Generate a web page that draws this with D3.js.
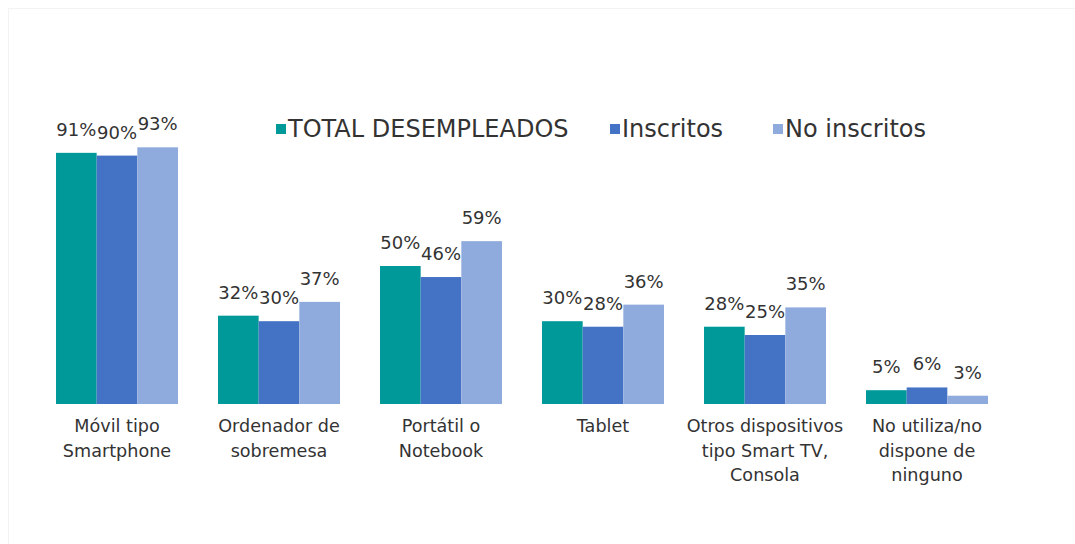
<!DOCTYPE html>
<html>
<head>
<meta charset="utf-8">
<script src="https://cdn.jsdelivr.net/npm/d3@7"></script>
<style>
  html, body { margin: 0; padding: 0; background: #fff; }
  svg { display: block; font-family: "DejaVu Sans", sans-serif; }
</style>
</head>
<body>
<div id="chart"></div>
<script>
// categorías (líneas del eje x)
const categories = [
  ["Móvil tipo", "Smartphone"],
  ["Ordenador de", "sobremesa"],
  ["Portátil o", "Notebook"],
  ["Tablet"],
  ["Otros dispositivos", "tipo Smart TV,", "Consola"],
  ["No utiliza/no", "dispone de", "ninguno"]
];
const seriesNames = ["TOTAL DESEMPLEADOS", "Inscritos", "No inscritos"];
const totalDesempleados = [0.91, 0.32, 0.50, 0.30, 0.28, 0.05];
const inscritos = [0.90, 0.30, 0.46, 0.28, 0.25, 0.06];
const noInscritos = [0.93, 0.37, 0.59, 0.36, 0.35, 0.03];
const colors = ["#009999", "#4472C4", "#8FAADC"];

const width = 1075, height = 544;
const series = [totalDesempleados, inscritos, noInscritos];

const svg = d3.select("#chart").append("svg")
  .attr("width", width)
  .attr("height", height);

// marco muy tenue
svg.append("path")
  .attr("d", "M8.5," + height + " V8.5 H" + width)
  .attr("fill", "none")
  .attr("stroke", "#f3f3f3");

const x0 = d3.scaleBand()
  .domain(d3.range(categories.length))
  .range([36, 1008])
  .paddingInner(0.247)
  .paddingOuter(0.1235);

const x1 = d3.scaleBand()
  .domain(d3.range(series.length))
  .range([0, x0.bandwidth()]);

const y = d3.scaleLinear().domain([0, 1]).range([404, 128]);

const groups = svg.append("g").selectAll("g.grupo")
  .data(categories)
  .enter().append("g")
  .attr("class", "grupo")
  .attr("transform", (d, i) => "translate(" + x0(i) + ",0)");

groups.each(function (d, i) {
  const g = d3.select(this);
  series.forEach((s, j) => {
    g.append("rect")
      .attr("x", x1(j))
      .attr("y", y(s[i]))
      .attr("width", x1.bandwidth())
      .attr("height", y(0) - y(s[i]))
      .attr("fill", colors[j]);
  });
  series.forEach((s, j) => {
    g.append("text")
      .attr("x", x1(j) + x1.bandwidth() / 2)
      .attr("y", y(s[i]) - 17)
      .attr("text-anchor", "middle")
      .attr("fill", "#333")
      .style("font-size", "18px")
      .text(Math.round(s[i] * 100) + "%");
  });
  // etiqueta de categoría
  const t = g.append("text")
    .attr("text-anchor", "middle")
    .attr("fill", "#333")
    .style("font-size", "17.6px");
  d.forEach((line, k) => {
    t.append("tspan")
      .attr("x", x0.bandwidth() / 2)
      .attr("y", 432 + k * 24.5)
      .text(line);
  });
});

// leyenda
const legendX = [276, 610, 773];
const legend = svg.append("g").selectAll("g.leyenda")
  .data(seriesNames)
  .enter().append("g")
  .attr("class", "leyenda")
  .attr("transform", (d, i) => "translate(" + legendX[i] + ",0)");

legend.append("rect")
  .attr("x", 0).attr("y", 124)
  .attr("width", 10).attr("height", 10)
  .attr("fill", (d, i) => colors[i]);

legend.append("text")
  .attr("x", 12).attr("y", 137)
  .attr("fill", "#333")
  .style("font-size", "24px")
  .text(d => d);
</script>
</body>
</html>
